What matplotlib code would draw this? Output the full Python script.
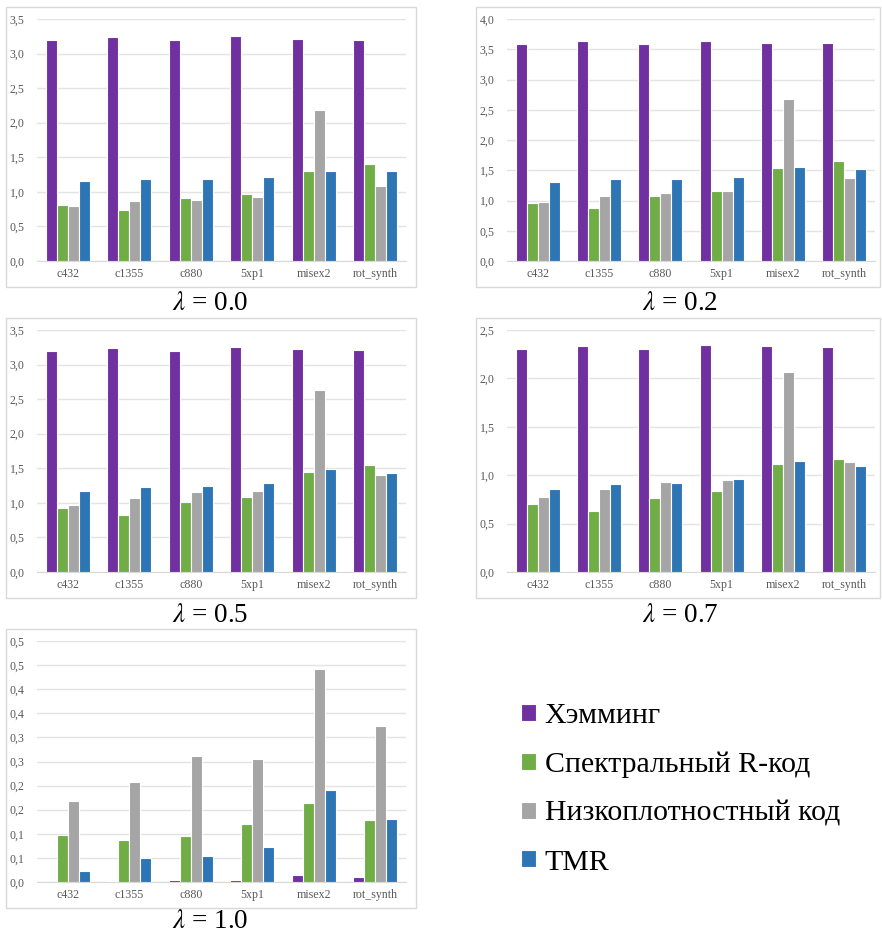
import matplotlib
matplotlib.use('Agg')
import matplotlib.pyplot as plt
from matplotlib.patches import Rectangle
from matplotlib.ticker import FuncFormatter
import numpy as np
import math

# circuits on the x axis
circuits = ['c432', 'c1355', 'c880', '5xp1', 'misex2', 'rot_synth']
series_names = ['Хэмминг', 'Спектральный R-код', 'Низкоплотностный код', 'TMR']
colors = ['#7030A0', '#70AD47', '#A5A5A5', '#2E75B6']

# lambda = 0.0
hamming_00 = [3.19, 3.24, 3.19, 3.25, 3.21, 3.20]
spectral_00 = [0.81, 0.74, 0.91, 0.97, 1.30, 1.41]
ldpc_00 = [0.79, 0.87, 0.88, 0.92, 2.18, 1.08]
tmr_00 = [1.15, 1.18, 1.19, 1.21, 1.30, 1.30]

# lambda = 0.2
hamming_02 = [3.58, 3.63, 3.58, 3.64, 3.60, 3.60]
spectral_02 = [0.96, 0.87, 1.07, 1.15, 1.54, 1.65]
ldpc_02 = [0.98, 1.07, 1.12, 1.16, 2.67, 1.38]
tmr_02 = [1.30, 1.35, 1.36, 1.39, 1.55, 1.52]

# lambda = 0.5
hamming_05 = [3.20, 3.24, 3.19, 3.26, 3.22, 3.21]
spectral_05 = [0.92, 0.83, 1.01, 1.08, 1.45, 1.55]
ldpc_05 = [0.97, 1.07, 1.15, 1.17, 2.63, 1.41]
tmr_05 = [1.17, 1.23, 1.25, 1.29, 1.49, 1.43]

# lambda = 0.7
hamming_07 = [2.30, 2.33, 2.30, 2.35, 2.33, 2.32]
spectral_07 = [0.70, 0.63, 0.76, 0.84, 1.12, 1.17]
ldpc_07 = [0.77, 0.86, 0.93, 0.95, 2.07, 1.14]
tmr_07 = [0.86, 0.91, 0.92, 0.96, 1.15, 1.09]

# lambda = 1.0
hamming_10 = [0.001, 0.003, 0.004, 0.005, 0.0145, 0.010]
spectral_10 = [0.098, 0.088, 0.095, 0.120, 0.163, 0.128]
ldpc_10 = [0.168, 0.208, 0.262, 0.255, 0.442, 0.324]
tmr_10 = [0.023, 0.050, 0.054, 0.072, 0.191, 0.131]

captions = ['0.0', '0.2', '0.5', '0.7', '1.0']
ymaxes = [3.5, 4.0, 3.5, 2.5, 0.5]
ysteps = [0.5, 0.5, 0.5, 0.5, 0.05]

W, H = 882, 935
fig = plt.figure(figsize=(W / 100, H / 100), dpi=100)
fig.patch.set_facecolor('white')

# pixel layout: plot area (x0, x1, ytop, ybottom), box (x0, x1, ytop, ybottom), caption (x, y)
panels = [
    ((37, 406, 19, 261), (6, 416, 7, 287), (210, 304)),
    ((507, 875, 19, 261), (476, 880, 7, 287), (680, 304)),
    ((37, 406, 330, 572), (6, 416, 318, 598), (210, 615)),
    ((507, 875, 330, 572), (476, 880, 318, 598), (680, 615)),
    ((37, 406, 641, 882), (6, 416, 629, 908), (210, 922)),
]

data = [
    (hamming_00, spectral_00, ldpc_00, tmr_00),
    (hamming_02, spectral_02, ldpc_02, tmr_02),
    (hamming_05, spectral_05, ldpc_05, tmr_05),
    (hamming_07, spectral_07, ldpc_07, tmr_07),
    (hamming_10, spectral_10, ldpc_10, tmr_10),
]


def excel_fmt(v, pos):
    # excel style rounding to one decimal, comma separator
    r = math.floor(v * 10 + 0.5 + 1e-9) / 10
    return '{:.1f}'.format(r).replace('.', ',')


tick_font = 'Liberation Serif'
x = np.arange(len(circuits))
slot = 0.18
handles = []
for i, (series, (area, box, cap)) in enumerate(zip(data, panels)):
    bx0, bx1, by0, by1 = box
    fig.patches.append(Rectangle((bx0 / W, 1 - by1 / H), (bx1 - bx0) / W, (by1 - by0) / H,
                                 transform=fig.transFigure, fill=False,
                                 edgecolor='#D9D9D9', linewidth=1.0))
    ax0, ax1, ay0, ay1 = area
    ax = fig.add_axes([ax0 / W, 1 - ay1 / H, (ax1 - ax0) / W, (ay1 - ay0) / H])
    for k, vals in enumerate(series):
        b = ax.bar(x + (k - 1.5) * slot, vals, width=slot, color=colors[k],
                   edgecolor='white', linewidth=0.8, zorder=3)
        if i == 0:
            handles.append(b)
    ax.set_xlim(-0.5, len(circuits) - 0.5)
    ax.set_ylim(0, ymaxes[i])
    ax.set_yticks(np.arange(0, ymaxes[i] + 1e-9, ysteps[i]))
    ax.yaxis.set_major_formatter(FuncFormatter(excel_fmt))
    ax.set_xticks(x)
    ax.set_xticklabels(circuits)
    ax.grid(axis='y', color='#E3E3E3', linewidth=1.0, zorder=0)
    for s in ['top', 'right', 'left']:
        ax.spines[s].set_visible(False)
    ax.spines['bottom'].set_color('#D9D9D9')
    ax.tick_params(axis='both', length=0, colors='#595959', labelsize=8.6)
    ax.tick_params(axis='y', pad=9)
    ax.tick_params(axis='x', pad=5)
    for lbl in ax.get_xticklabels() + ax.get_yticklabels():
        lbl.set_fontfamily(tick_font)
    fig.text(cap[0] / W, 1 - cap[1] / H, r'$\lambda$ = ' + captions[i],
             ha='center', va='center', fontsize=19.5, family='Liberation Serif',
             math_fontfamily='stix')

fig.legend(handles, series_names, loc='upper left',
           bbox_to_anchor=(509 / W, 1 - 691 / H), frameon=False,
           prop={'family': 'Liberation Serif', 'size': 21.5},
           handlelength=0.5, handleheight=0.5, handletextpad=0.3,
           labelspacing=0.76, borderaxespad=0)

fig.savefig('out.png', dpi=100, facecolor='white')
